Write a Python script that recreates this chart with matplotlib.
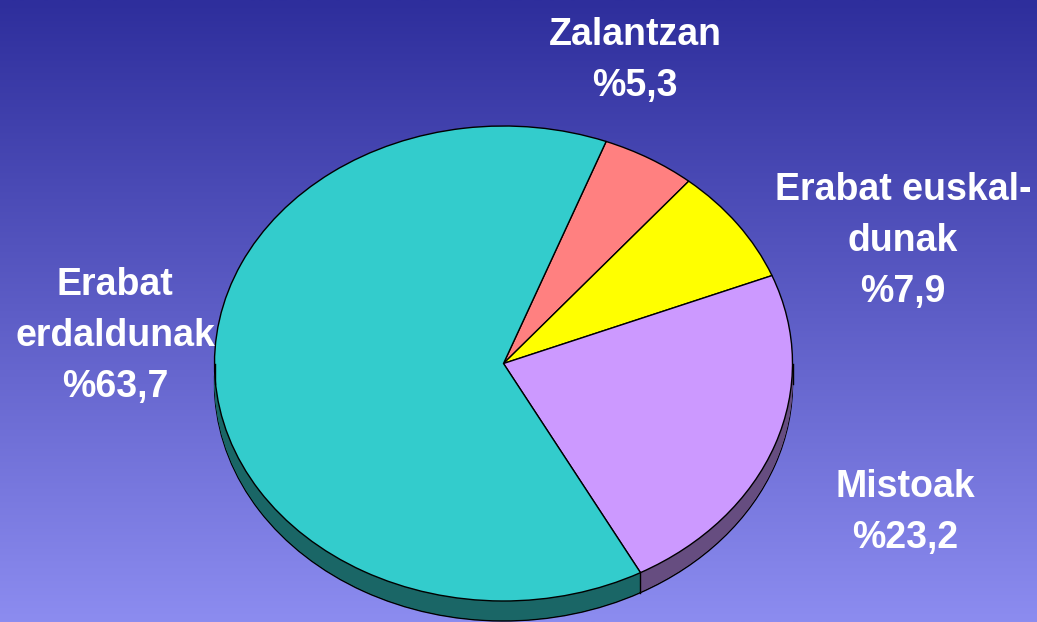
import matplotlib
matplotlib.use("Agg")
import matplotlib.pyplot as plt
import numpy as np
from matplotlib.colors import LinearSegmentedColormap, to_rgb

# ---- data ----
categories = ["Zalantzan", "Erabat euskal-\ndunak", "Mistoak", "Erabat\nerdaldunak"]
values = [5.3, 7.9, 23.2, 63.7]
value_labels = ["%5,3", "%7,9", "%23,2", "%63,7"]
colors = ["#ff8080", "#ffff00", "#cc99ff", "#33cccc"]

# ---- layout ----
W, H = 1037, 622
cx, cy = 503.5, H - 363.5      # pie centre in pixels (from bottom)
rx, ry = 289, 237.5            # ellipse radii in pixels
depth = 20                     # 3D thickness in pixels
start = 69.2
label_pos = [(635, 45), (903, 200), (905, 497), (115, 295)]  # centre x, first baseline (from top)
line_step = 51

fig = plt.figure(figsize=(W / 100, H / 100), dpi=100)

bg = fig.add_axes([0, 0, 1, 1])
grad = np.linspace(0, 1, 256).reshape(-1, 1)
cmap = LinearSegmentedColormap.from_list("bg", ["#2e2e9c", "#8c8cf0"])
bg.imshow(grad, aspect="auto", cmap=cmap, extent=[0, 1, 0, 1], origin="upper")
bg.set_xlim(0, 1)
bg.set_ylim(0, 1)
bg.axis("off")

ax = fig.add_axes([0, 0, 1, 1])
ax.patch.set_alpha(0)

dark = [tuple(c * 0.5 for c in to_rgb(col)) for col in colors]

# side (extrusion) layers
for k in range(depth, 0, -1):
    ec = "black" if k == depth else "none"
    ax.pie(values, colors=dark, startangle=start, counterclock=False,
           radius=1, center=(0, -k / ry),
           wedgeprops=dict(edgecolor=ec, linewidth=1.0))

# vertical edges on the visible side
total = sum(values)
angles = start - np.cumsum([0] + values) / total * 360.0
for a in angles:
    t = np.deg2rad(a)
    if np.sin(t) < 0:
        ax.plot([np.cos(t), np.cos(t)], [np.sin(t), np.sin(t) - depth / ry],
                color="black", lw=1.0)
for xs in (-1, 1):
    ax.plot([xs, xs], [0, -depth / ry], color="black", lw=1.0)

# top face
ax.pie(values, colors=colors, startangle=start, counterclock=False,
       radius=1, center=(0, 0),
       wedgeprops=dict(edgecolor="black", linewidth=1.0))

ax.set_aspect("auto")
ax.set_xlim(-cx / rx, (W - cx) / rx)
ax.set_ylim(-cy / ry, (H - cy) / ry)
ax.axis("off")

# labels
for cat, pct, (x, y) in zip(categories, value_labels, label_pos):
    lines = cat.split("\n") + [pct]
    for i, line in enumerate(lines):
        fig.text(x / W, 1 - (y + i * line_step) / H, line, ha="center",
                 va="baseline", color="white", fontsize=27, fontweight="bold",
                 family=["Liberation Sans", "DejaVu Sans"])

fig.savefig("out.png", dpi=100)
